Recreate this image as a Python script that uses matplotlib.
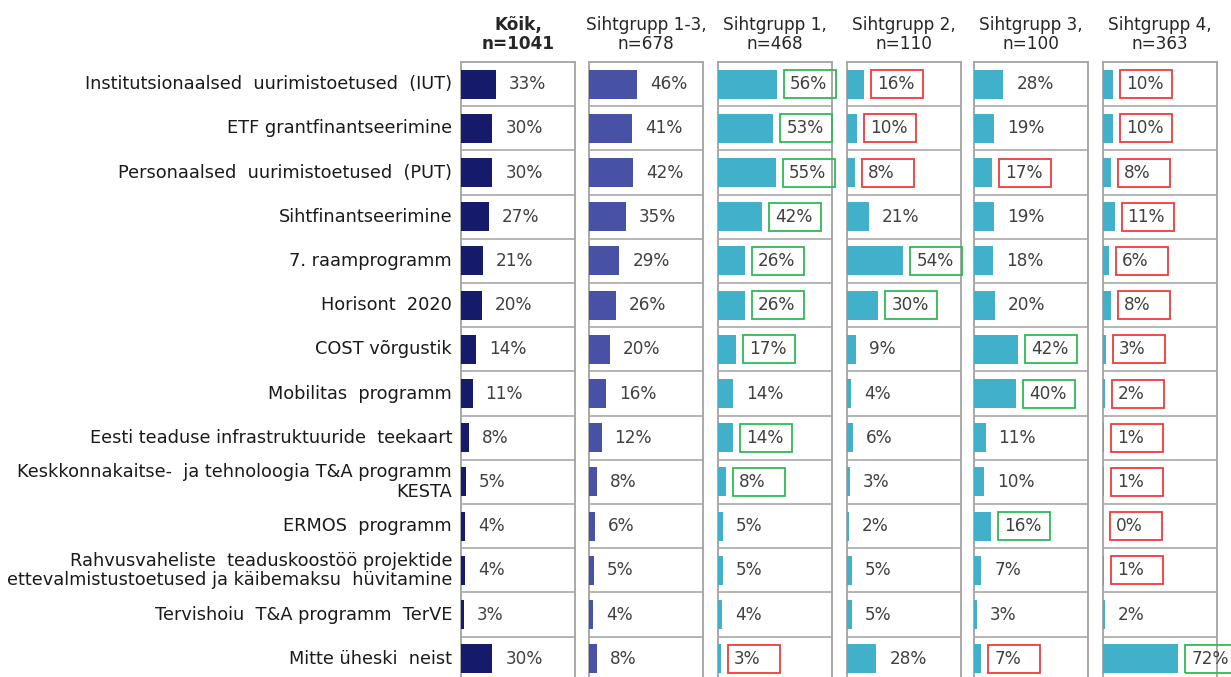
import matplotlib
matplotlib.use("Agg")
import matplotlib.pyplot as plt
import matplotlib.transforms as mtransforms
from matplotlib.patches import Rectangle

categories = [
    "Institutsionaalsed  uurimistoetused  (IUT)",
    "ETF grantfinantseerimine",
    "Personaalsed  uurimistoetused  (PUT)",
    "Sihtfinantseerimine",
    "7. raamprogramm",
    "Horisont  2020",
    "COST võrgustik",
    "Mobilitas  programm",
    "Eesti teaduse infrastruktuuride  teekaart",
    "Keskkonnakaitse-  ja tehnoloogia T&A programm\nKESTA",
    "ERMOS  programm",
    "Rahvusvaheliste  teaduskoostöö projektide\nettevalmistustoetused ja käibemaksu  hüvitamine",
    "Tervishoiu  T&A programm  TerVE",
    "Mitte üheski  neist",
]

groups = ["Kõik,\nn=1041", "Sihtgrupp 1-3,\nn=678", "Sihtgrupp 1,\nn=468",
          "Sihtgrupp 2,\nn=110", "Sihtgrupp 3,\nn=100", "Sihtgrupp 4,\nn=363"]

koik = [33, 30, 30, 27, 21, 20, 14, 11, 8, 5, 4, 4, 3, 30]
sg13 = [46, 41, 42, 35, 29, 26, 20, 16, 12, 8, 6, 5, 4, 8]
sg1 = [56, 53, 55, 42, 26, 26, 17, 14, 14, 8, 5, 5, 4, 3]
sg2 = [16, 10, 8, 21, 54, 30, 9, 4, 6, 3, 2, 5, 5, 28]
sg3 = [28, 19, 17, 19, 18, 20, 42, 40, 11, 10, 16, 7, 3, 7]
sg4 = [10, 10, 8, 11, 6, 8, 3, 2, 1, 1, 0, 1, 2, 72]

# highlight flags: 'g' = significantly higher, 'r' = significantly lower, '' = none
hl_koik = [""] * 14
hl_sg13 = [""] * 14
hl_sg1 = ["g", "g", "g", "g", "g", "g", "g", "", "g", "g", "", "", "", "r"]
hl_sg2 = ["r", "r", "r", "", "g", "g", "", "", "", "", "", "", "", ""]
hl_sg3 = ["", "", "r", "", "", "", "g", "g", "", "", "g", "", "", "r"]
hl_sg4 = ["r", "r", "r", "r", "r", "r", "r", "r", "r", "r", "r", "r", "", "g"]

series = [koik, sg13, sg1, sg2, sg3, sg4]
highlights = [hl_koik, hl_sg13, hl_sg1, hl_sg2, hl_sg3, hl_sg4]
colors = ["#151A6B", "#4752A6", "#40B0CB", "#40B0CB", "#40B0CB", "#40B0CB"]
box_colors = {"g": "#2DBA55", "r": "#F03A3A"}

W, H = 1231, 677
fig = plt.figure(figsize=(W / 100, H / 100), dpi=100)
plt.rcParams["font.family"] = ["DejaVu Sans"]

panel_left = [461, 589, 718, 847, 974, 1103]
panel_w = 114
top_px = 62
row_px = 44.2
n = len(categories)
ax_h_px = H - top_px
FS = 12.2
FS_CAT = 12.8
grid_col = "#A8A8A8"

for k, (vals, hls, col) in enumerate(zip(series, highlights, colors)):
    ax = fig.add_axes([panel_left[k] / W, 0, panel_w / W, ax_h_px / H])
    ax.set_xlim(0, 109)
    ax.set_ylim(-0.5 + ax_h_px / row_px, -0.5)
    ax.barh(range(n), vals, height=0.66, color=col, edgecolor="none", zorder=3)
    for b in [i + 0.5 for i in range(n - 1)]:
        ax.axhline(b, color=grid_col, lw=1.2, zorder=1)
    for s in ["left", "right", "top"]:
        ax.spines[s].set_color(grid_col)
        ax.spines[s].set_linewidth(1.4)
    ax.spines["bottom"].set_visible(False)
    ax.set_xticks([])
    ax.set_yticks([])
    for i, v in enumerate(vals):
        ax.annotate(f"{v}%", xy=(v, i), xytext=(13, 0), textcoords="offset pixels",
                    ha="left", va="center", fontsize=FS, color="#404040",
                    annotation_clip=False, zorder=5)
        if hls[i]:
            tr = mtransforms.IdentityTransform() + mtransforms.ScaledTranslation(v, i, ax.transData)
            ax.add_patch(Rectangle((7, -14), 52, 28, transform=tr, fill=False,
                                   edgecolor=box_colors[hls[i]], lw=1.3,
                                   clip_on=False, zorder=6))
    ax.annotate(groups[k], xy=(0.5, 1), xycoords="axes fraction", xytext=(0, 9),
                textcoords="offset pixels", ha="center", va="bottom",
                fontsize=FS, color="#262626", linespacing=1.05,
                fontweight="bold" if k == 0 else "normal")
    if k == 0:
        for i, c in enumerate(categories):
            ax.annotate(c, xy=(0, i), xytext=(-9, 0), textcoords="offset pixels",
                        ha="right", va="center", fontsize=FS_CAT, color="#1A1A1A",
                        linespacing=1.1, annotation_clip=False)

fig.savefig("out.png", dpi=100)
